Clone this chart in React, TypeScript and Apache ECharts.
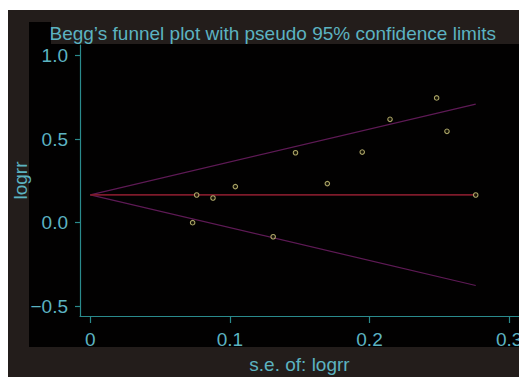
import React, { useEffect, useRef } from "react";
import * as echarts from "echarts";

// Data
const seValues = [0.0762, 0.0879, 0.1039, 0.0733, 0.131, 0.147, 0.1698, 0.1948, 0.2147, 0.2481, 0.2555, 0.2761];
const logrrValues = [0.166, 0.148, 0.216, 0.0, -0.084, 0.419, 0.234, 0.423, 0.619, 0.747, 0.547, 0.166];
const centerLine = [[0, 0.167], [0.2761, 0.167]];
const upperLimit = [[0, 0.167], [0.2761, 0.71]];
const lowerLimit = [[0, 0.167], [0.2761, -0.376]];
const xTicks = [0, 0.1, 0.2, 0.3];
const yTicks = [-0.5, 0, 0.5, 1.0];
const titleText = "Begg\u2019s funnel plot with pseudo 95% confidence limits";
const xName = "s.e. of: logrr";
const yName = "logrr";

const FONT = "'Liberation Sans', Arial, sans-serif";
const TEXT = "#5cb3c1";
const AXIS = "#2a8a8c";
const FRAME = "#231d1b";
const PLOT_BG = "#020101";

export default function App() {
  const ref = useRef<HTMLDivElement>(null);
  useEffect(() => {
    if (!ref.current) return;
    document.body.style.overflow = "hidden";
    const chart = echarts.init(ref.current, undefined, { renderer: "svg" });
    const points = seValues.map((s, i) => [s, logrrValues[i]]);
    chart.setOption({
      animation: false,
      backgroundColor: PLOT_BG,
      graphic: [
        { type: "rect", z: -10, shape: { x: 0, y: 0, width: 700, height: 12 }, style: { fill: FRAME } },
        { type: "rect", z: -10, shape: { x: 0, y: 0, width: 21, height: 400 }, style: { fill: FRAME } },
        { type: "rect", z: -10, shape: { x: 0, y: 337, width: 700, height: 100 }, style: { fill: FRAME } },
        { type: "rect", z: -10, shape: { x: 43, y: 0, width: 700, height: 34 }, style: { fill: FRAME } },
        {
          type: "text",
          z: 10,
          x: 41.5,
          y: 23,
          style: { text: titleText, fill: TEXT, font: `19px ${FONT}`, verticalAlign: "middle", align: "left" },
        },
      ],
      grid: { left: 72, top: 35, width: 439, bottom: 61, containLabel: false, outerBoundsMode: "none" },
      xAxis: {
        type: "value",
        min: -0.00738,
        max: 0.3071,
        name: xName,
        nameLocation: "middle",
        nameGap: 39,
        nameMoveOverlap: false,
        nameTextStyle: { color: TEXT, fontSize: 19, fontFamily: FONT },
        axisLine: { show: true, onZero: false, lineStyle: { color: AXIS, width: 1.2 } },
        axisTick: { show: true, length: 7, customValues: xTicks, lineStyle: { color: AXIS, width: 1.2 } },
        axisLabel: {
          customValues: xTicks,
          color: TEXT,
          fontSize: 19,
          fontFamily: FONT,
          margin: 14,
          hideOverlap: false,
          formatter: (v: number) => (v === 0 ? "0" : String(v)),
        },
        splitLine: { show: false },
      },
      yAxis: {
        type: "value",
        min: -0.5587,
        max: 1.064,
        name: yName,
        nameLocation: "middle",
        nameGap: 50,
        nameMoveOverlap: false,
        nameTextStyle: { color: TEXT, fontSize: 19, fontFamily: FONT },
        axisLine: { show: true, onZero: false, lineStyle: { color: AXIS, width: 1.2 } },
        axisTick: { show: true, length: 5, customValues: yTicks, lineStyle: { color: AXIS, width: 1.2 } },
        axisLabel: {
          customValues: yTicks,
          color: TEXT,
          fontSize: 19,
          fontFamily: FONT,
          margin: 12,
          formatter: (v: number) => (v < 0 ? "\u2212" : "") + Math.abs(v).toFixed(1),
        },
        splitLine: { show: false },
      },
      series: [
        {
          type: "line",
          data: upperLimit,
          showSymbol: false,
          lineStyle: { color: "#5e1a55", width: 1.2 },
          z: 2,
        },
        {
          type: "line",
          data: lowerLimit,
          showSymbol: false,
          lineStyle: { color: "#5e1a55", width: 1.2 },
          z: 2,
        },
        {
          type: "line",
          data: centerLine,
          showSymbol: false,
          lineStyle: { color: "#7e1a2a", width: 1.8 },
          z: 3,
        },
        {
          type: "scatter",
          data: points,
          symbol: "circle",
          symbolSize: 4.5,
          itemStyle: { color: "#1a1808", borderColor: "#d2ca80", borderWidth: 1.1 },
          z: 5,
        },
      ],
    });
    return () => chart.dispose();
  }, []);
  return (
    <div
      ref={ref}
      style={{ position: "fixed", left: 8, top: 10, width: 530, height: 367 }}
    />
  );
}
